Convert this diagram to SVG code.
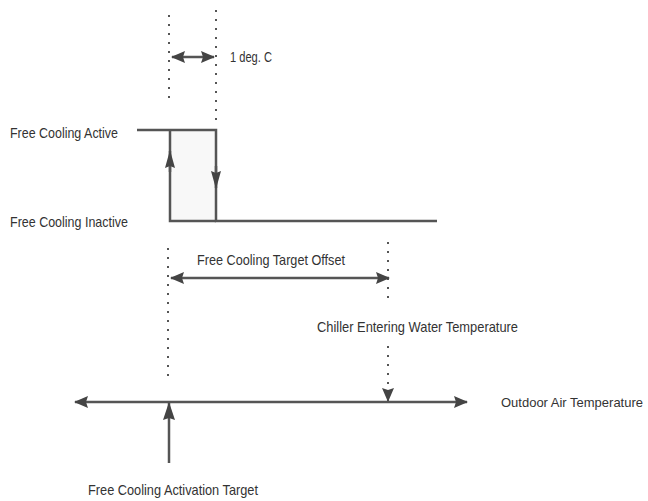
<svg xmlns="http://www.w3.org/2000/svg" width="648" height="501" viewBox="0 0 648 501">
<style>
.lbl{font-family:"Liberation Sans Narrow","Liberation Sans",Arial,sans-serif;font-size:15px;fill:#333}
.ln{stroke:#555;stroke-width:2.5;fill:none}
.dot{stroke:#555;stroke-width:2;fill:none;stroke-dasharray:2 7}
</style>
<defs>
<marker id="ah" viewBox="0 0 14 12" refX="13" refY="6" markerWidth="14" markerHeight="12" markerUnits="userSpaceOnUse" orient="auto-start-reverse">
<path d="M0,0 L14,6 L0,12 L2,6 Z" fill="#444"/>
</marker>
<marker id="av" viewBox="0 0 18 10" refX="17" refY="5" markerWidth="18" markerHeight="10" markerUnits="userSpaceOnUse" orient="auto-start-reverse">
<path d="M0,0 L18,5 L0,10 L2,5 Z" fill="#444"/>
</marker>
<marker id="au" viewBox="0 0 18 12" refX="17" refY="6" markerWidth="18" markerHeight="12" markerUnits="userSpaceOnUse" orient="auto-start-reverse">
<path d="M0,0 L18,6 L0,12 L2,6 Z" fill="#444"/>
</marker>
</defs>
<rect width="648" height="501" fill="#fff"/>
<g id="hysteresis">
<rect x="170" y="130" width="46" height="91" fill="#f8f8f8"/>
<path class="ln" d="M137,130 H216 V221 H437"/>
<path class="ln" d="M170,130 V221 H216"/>
</g>
<g id="connectors">
<line class="dot" x1="169" y1="15" x2="169" y2="104"/>
<line class="dot" x1="216" y1="10" x2="216" y2="126"/>
<line class="ln" x1="172" y1="57" x2="214" y2="57" marker-start="url(#ah)" marker-end="url(#ah)"/>
<line class="ln" x1="170" y1="172" x2="170" y2="151" marker-end="url(#av)"/>
<line class="ln" x1="216" y1="166" x2="216" y2="188" marker-end="url(#av)"/>
<line class="dot" x1="168" y1="248" x2="168" y2="376"/>
<line class="dot" x1="388" y1="242" x2="388" y2="298"/>
<line class="ln" x1="171" y1="278" x2="389" y2="278" marker-start="url(#ah)" marker-end="url(#ah)"/>
<line class="dot" x1="388" y1="346" x2="388" y2="401" marker-end="url(#ah)"/>
<line class="ln" x1="75" y1="402" x2="467" y2="402" marker-start="url(#ah)" marker-end="url(#ah)"/>
<line class="ln" x1="169" y1="463" x2="169" y2="403" marker-end="url(#au)"/>
</g>
<g id="label-active"><text class="lbl" x="10" y="138" textLength="108" lengthAdjust="spacingAndGlyphs">Free Cooling Active</text></g>
<g id="label-inactive"><text class="lbl" x="10" y="227" textLength="118" lengthAdjust="spacingAndGlyphs">Free Cooling Inactive</text></g>
<g id="label-deg"><text class="lbl" x="230" y="62" textLength="42" lengthAdjust="spacingAndGlyphs">1 deg. C</text></g>
<g id="label-offset"><text class="lbl" x="197" y="265" textLength="148" lengthAdjust="spacingAndGlyphs">Free Cooling Target Offset</text></g>
<g id="label-chiller"><text class="lbl" x="317" y="332" textLength="201" lengthAdjust="spacingAndGlyphs">Chiller Entering Water Temperature</text></g>
<g id="label-outdoor"><text class="lbl" x="501" y="407" style="font-size:13px" textLength="142" lengthAdjust="spacingAndGlyphs">Outdoor Air Temperature</text></g>
<g id="label-activation"><text class="lbl" x="88" y="495" textLength="170" lengthAdjust="spacingAndGlyphs">Free Cooling Activation Target</text></g>
</svg>
